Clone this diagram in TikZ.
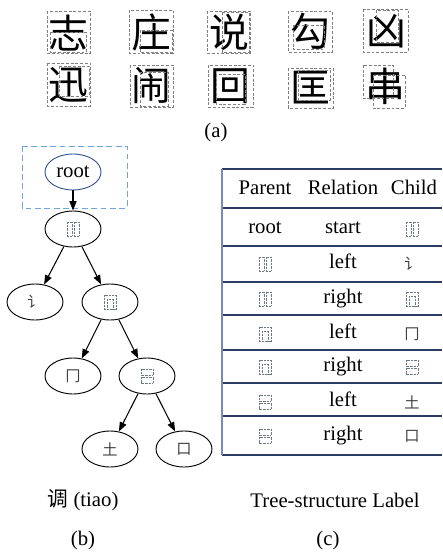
\documentclass[tikz,border=0pt]{standalone}
\usepackage{fontspec}
\setmainfont{Liberation Serif}
\newfontfamily\cjk{Noto Sans CJK SC}
\usetikzlibrary{shapes.geometric}
\usetikzlibrary{arrows.meta}
\definecolor{rootblue}{RGB}{52,84,150}
\definecolor{boxblue}{RGB}{110,165,220}
\definecolor{rulenavy}{RGB}{45,60,100}
\definecolor{ruleside}{RGB}{120,140,175}
\definecolor{glyphgray}{RGB}{110,120,135}

\newcommand{\lrglyph}[2] % x, y in px: left-right placeholder
{
	\draw[glyph] (#1-6,#2-7) rectangle (#1-0.8,#2+7);
	\draw[glyph] (#1+0.8,#2-7) rectangle (#1+6,#2+7);
}
\newcommand{\encglyph}[2] % x, y in px: enclosure placeholder
{
	\draw[glyph] (#1-6,#2-7) rectangle (#1+6,#2+7);
	\draw[glyph] (#1-3,#2-3) rectangle (#1+3,#2+7);
}
\newcommand{\tbglyph}[2] % x, y in px: top-bottom placeholder
{
	\draw[glyph] (#1-6,#2-7) rectangle (#1+6,#2-0.8);
	\draw[glyph] (#1-6,#2+0.8) rectangle (#1+6,#2+7);
}

\begin{document}
\begin{tikzpicture}[x=0.03cm, y=-0.03cm,
	every node/.style={font=\fontsize{17.7}{21}\selectfont, inner sep=0pt},
	hanzi/.style={font=\cjk\fontsize{34}{34}\selectfont},
	part/.style={draw=gray, dash pattern=on 2.5pt off 1.5pt, line width=0.6pt},
	tnode/.style={ellipse, draw, line width=0.8pt, minimum width=1.68cm, minimum height=1.08cm},
	edge/.style={line width=0.9pt, -{Triangle[length=8pt,width=6pt]}},
	glyph/.style={draw=glyphgray, line width=0.35pt, dash pattern=on 0.6pt off 0.6pt},
	small/.style={font=\cjk\fontsize{13}{13}\selectfont, text=black!75},
	cell/.style={text height=12pt, text depth=4pt},
	rule/.style={rulenavy, line width=1pt}]
	\useasboundingbox (0,0) rectangle (442,557);

	% (a) characters with their parts
	\node[hanzi] (zhi) at (68,33) {志};
	\draw[part] (47,11) rectangle (90,53);
	\draw[part] (50,32) rectangle (86,52);
	\node[hanzi] (zhuang) at (151,32) {庄};
	\draw[part] (129,10) rectangle (173,53);
	\draw[part] (140,30) rectangle (172,52);
	\node[hanzi] (shuo) at (229,32) {说};
	\draw[part] (207,11) rectangle (250,53);
	\draw[part] (222,12) rectangle (249,52);
	\node[hanzi] (gou) at (310,31) {勾};
	\draw[part] (288,11) rectangle (332,52);
	\draw[part] (293,25) rectangle (324,49);
	\node[hanzi] (xiong) at (386,31) {凶};
	\draw[part] (363,9) rectangle (408,52);
	\draw[part] (376,10) rectangle (398,42);
	\node[hanzi] (xun) at (68,85) {迅};
	\draw[part] (47,63) rectangle (90,106);
	\draw[part] (59,66) rectangle (89,96);
	\node[hanzi] (nao) at (151,86) {闹};
	\draw[part] (130,65) rectangle (173,107);
	\draw[part] (140,72) rectangle (168,106);
	\node[hanzi] (hui) at (230,86) {回};
	\draw[part] (208,65) rectangle (253,107);
	\draw[part] (216,74) rectangle (245,104);
	\node[hanzi] (kuang) at (310,88) {匡};
	\draw[part] (288,68) rectangle (333,108);
	\draw[part] (298,70) rectangle (330,100);
	\node[hanzi] (chuan) at (385,86) {串};
	\draw[part] (363,65) rectangle (393,98);
	\draw[part] (373,75) rectangle (405,108);
	\node (laba) at (216,133) {(a)};

	% (b) tree of tiao
	\draw[boxblue, dash pattern=on 5pt off 3pt, line width=0.8pt] (22,146) rectangle (127,208);
	\node[tnode, draw=rootblue] (root) at (73,172) {root};
	\node[tnode] (lr) at (73,229) {};
	\node[tnode, small] (yan) at (35,302) {讠};
	\node[tnode] (enc) at (110,302) {};
	\node[tnode, small] (jiong) at (73,376) {冂};
	\node[tnode] (tb) at (147,376) {};
	\node[tnode, small] (tu) at (110,449) {土};
	\node[tnode, small] (kou) at (184,449) {口};
	\lrglyph{73}{229};
	\encglyph{110}{302};
	\tbglyph{147}{376};
	\draw[edge] (root) -- (lr);
	\draw[edge] (lr) -- (yan);
	\draw[edge] (lr) -- (enc);
	\draw[edge] (enc) -- (jiong);
	\draw[edge] (enc) -- (tb);
	\draw[edge] (tb) -- (tu);
	\draw[edge] (tb) -- (kou);
	\node (capb) at (83,500) {{\cjk 调} (tiao)};
	\node (labb) at (83,541) {(b)};

	% (c) label table
	\foreach \yy in {169,208,246,282,315,350,383,416,455}
		\draw[rule] (222,\yy) -- (442,\yy);
	\draw[ruleside, line width=1.2pt] (222,169) -- (222,455);
	\node[cell] (hpar) at (265,190) {Parent};
	\node[cell] (hrel) at (343,190) {Relation};
	\node[cell] (hchi) at (414,190) {Child};
	\foreach \rel/\yy [count=\k] in {start/229,left/264,right/299,left/334,right/367,left/402,right/436}
		\node[cell] (rel\k) at (343,\yy) {\rel};
	\node[cell] (proot) at (265,229) {root};
	\lrglyph{265}{264};
	\lrglyph{265}{299};
	\encglyph{265}{334};
	\encglyph{265}{367};
	\tbglyph{265}{402};
	\tbglyph{265}{436};
	\lrglyph{412}{229};
	\node[small] (cyan) at (412,264) {讠};
	\encglyph{412}{299};
	\node[small] (cjiong) at (412,334) {冂};
	\tbglyph{412}{367};
	\node[small] (ctu) at (412,402) {土};
	\node[small] (ckou) at (412,436) {口};
	\node (capc) at (335,500) {Tree-structure Label};
	\node (labc) at (328,541) {(c)};
\end{tikzpicture}
\end{document}
